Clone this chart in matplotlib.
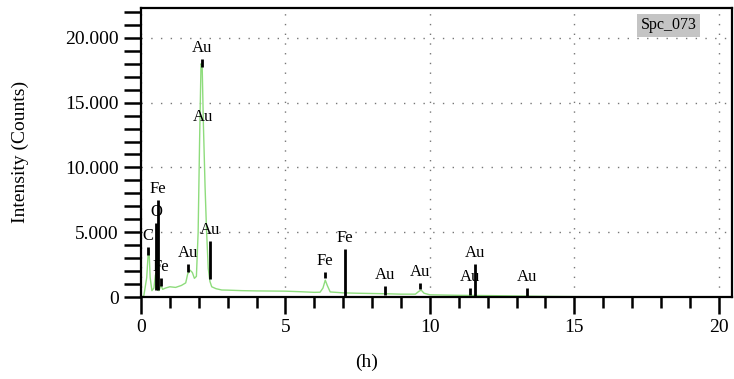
import numpy as np
import matplotlib as mpl
mpl.use('Agg')
import matplotlib.pyplot as plt
from matplotlib.ticker import MultipleLocator, FuncFormatter

# spectrum (energy, counts)
energy = [0.0, 0.1, 0.2, 0.25, 0.28, 0.32, 0.38, 0.45, 0.5, 0.53, 0.57, 0.62, 0.7, 0.75,
          0.85, 1.0, 1.2, 1.4, 1.55, 1.62, 1.7, 1.78, 1.85, 1.92, 1.98, 2.03, 2.08, 2.12,
          2.16, 2.22, 2.27, 2.33, 2.39, 2.45, 2.6, 2.8, 3.0, 3.5, 4.0, 4.5, 5.0, 5.5, 6.0,
          6.2, 6.3, 6.38, 6.45, 6.55, 7.0, 7.5, 8.0, 8.5, 9.0, 9.5, 9.62, 9.7, 9.8, 10.0,
          11.0, 12.0, 13.0, 14.0, 15.0, 17.0, 20.0]
counts = [0, 100, 1500, 3300, 3600, 1500, 500, 700, 1700, 1850, 900, 500, 900, 600,
          700, 800, 750, 900, 1100, 1800, 2080, 1900, 1450, 1600, 5000, 12000, 18000, 17800,
          13500, 8500, 5200, 2200, 1200, 800, 650, 550, 540, 500, 480, 470, 460, 420, 370,
          380, 700, 1310, 900, 400, 330, 300, 280, 260, 230, 230, 450, 540, 300, 180,
          140, 120, 90, 60, 40, 20, 10]

# element markers: label, position, bottom, top
marker_names = ['C', 'O', 'Fe', 'Fe', 'Au', 'Au', 'Au', 'Fe', 'Fe', 'Au', 'Au', 'Au', 'Au', 'Au']
marker_x = [0.24, 0.52, 0.59, 0.68, 1.63, 2.11, 2.38, 6.37, 7.05, 8.44, 9.65, 11.38, 11.55, 13.36]
marker_lo = [3240, 540, 540, 850, 1930, 17760, 1390, 1470, 77, 150, 620, 150, 0, 77]
marker_hi = [3860, 5710, 7490, 1470, 2550, 18370, 4320, 1930, 3700, 850, 1080, 700, 2550, 700]

plt.rcParams['font.family'] = ['Liberation Serif', 'DejaVu Serif']

fig = plt.figure(figsize=(7.34, 3.79), dpi=100)
ax = fig.add_axes([0.192, 0.216, 0.805, 0.763])

ax.plot(energy, counts, color='#8edc7c', lw=1.0, zorder=2)

ax.vlines(marker_x, marker_lo, marker_hi, color='black', lw=2, zorder=3)
for name, x, top in zip(marker_names, marker_x, marker_hi):
    ax.annotate(name, (x, top), xytext=(0, 2), textcoords='offset points',
                ha='center', va='bottom', fontsize=12)
# label drawn inside the main peak
ax.annotate('Au', (2.14, 13300), ha='center', va='bottom', fontsize=12)

ax.text(0.893, 0.941, 'Spc_073', transform=ax.transAxes, ha='center', va='center',
        fontsize=11.5, bbox=dict(facecolor='#c4c4c4', edgecolor='none', pad=2.5))

ax.set_xlim(0, 20.45)
ax.set_ylim(0, 22300)
ax.xaxis.set_major_locator(MultipleLocator(5))
ax.xaxis.set_minor_locator(MultipleLocator(1))
ax.yaxis.set_major_locator(MultipleLocator(5000))
ax.yaxis.set_minor_locator(MultipleLocator(1000))
ax.yaxis.set_major_formatter(FuncFormatter(lambda v, p: '{:,.0f}'.format(v).replace(',', '.')))

ax.tick_params(which='major', direction='out', length=12, width=1.8, labelsize=14, pad=4)
ax.tick_params(axis='y', which='minor', direction='out', length=12, width=1.8)
ax.tick_params(axis='x', which='minor', direction='out', length=8, width=1.8)

ax.grid(True, which='major', color='#777777', linestyle=(0, (1, 6)), lw=1.0)
for s in ax.spines.values():
    s.set_linewidth(1.6)

fig.text(20 / 734, 0.6, 'Intensity (Counts)', rotation=90, ha='center', va='center', fontsize=14)
fig.text(0.5, 0.045, '(h)', ha='center', va='center', fontsize=14)

plt.savefig('out.png', dpi=100)
